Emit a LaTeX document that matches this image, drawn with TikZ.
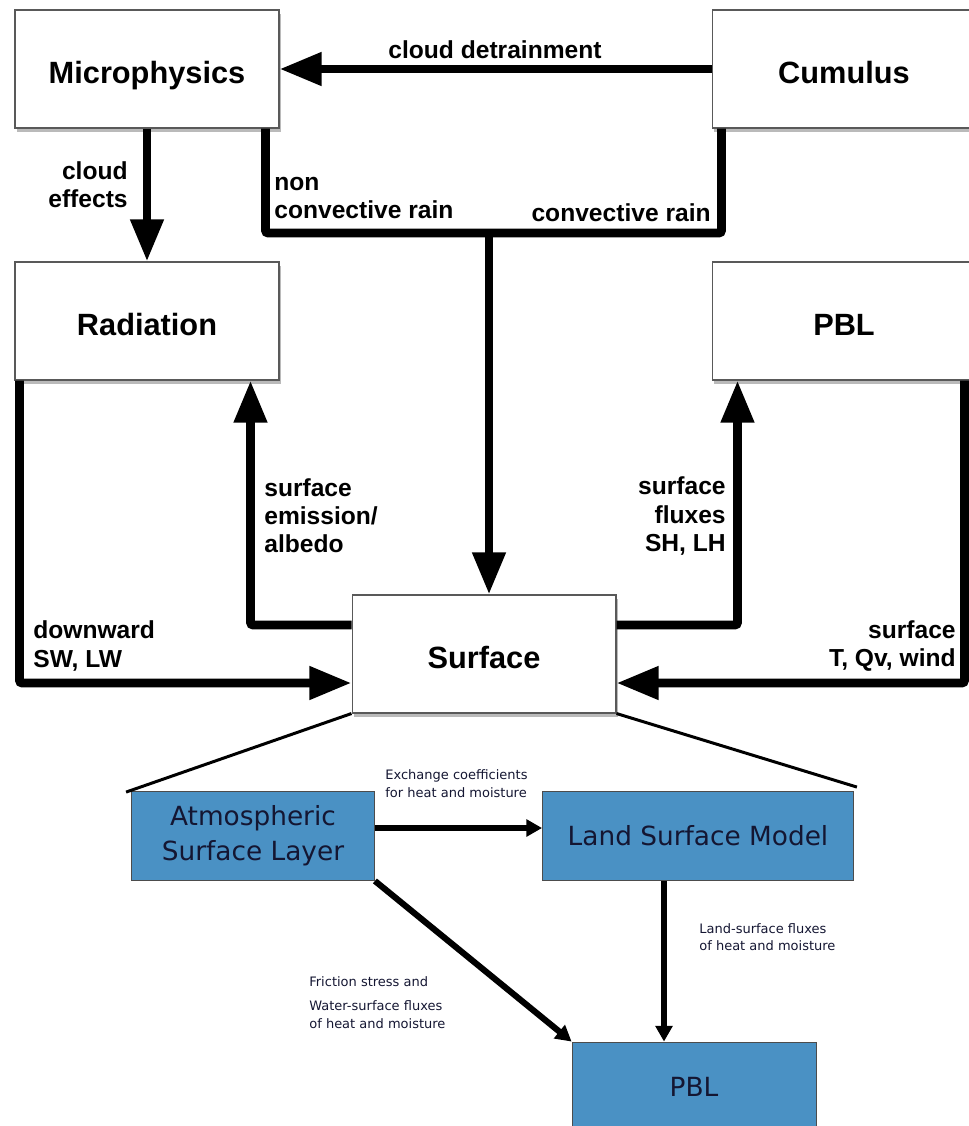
\documentclass[tikz,border=0pt]{standalone}
\usepackage{fontspec}
\setmainfont{Liberation Sans}
\newfontfamily\subfont{DejaVu Sans}
\usetikzlibrary{arrows.meta,calc,shadows}

\definecolor{boxblue}{RGB}{74,145,196}
\definecolor{textnavy}{RGB}{20,22,50}

\begin{document}
\begin{tikzpicture}[x=0.02cm,y=-0.02cm,
    modbox/.style={draw=black!65, line width=0.6pt, fill=white,
      minimum width=5.28cm, minimum height=2.36cm,
      text height=17pt, text depth=0pt,
      font=\fontsize{17.5}{20}\selectfont\bfseries,
      drop shadow={shadow xshift=1.2pt, shadow yshift=-2.5pt, fill=black!45, opacity=0.6}},
    subbox/.style={draw=black!70, line width=0.5pt, fill=boxblue,
      minimum height=1.78cm, align=center, text=textnavy,
      font=\subfont\fontsize{15}{20}\selectfont},
    pipe/.style={line width=5pt, rounded corners=1.5pt},
    flow/.style={pipe, -{Triangle[length=24pt,width=18pt]}},
    subflow/.style={line width=3.5pt, -{Triangle[length=9pt,width=9.5pt]}},
    zoomline/.style={line width=1.7pt},
    lbl/.style={inner sep=0pt, font=\fontsize{14}{16}\selectfont\bfseries},
    sublbl/.style={inner sep=0pt, align=left, text=textnavy,
      font=\subfont\fontsize{7.4}{10}\selectfont}]
    \useasboundingbox (0,0) rectangle (969,1126);
    \clip (0,0) rectangle (969,1126);

    \node[modbox] (micro) at (147,69) {Microphysics};
    \node[modbox] (cumulus) at (844,69) {Cumulus};
    \node[modbox] (radiation) at (147,321) {Radiation};
    \node[modbox] (pbl) at (844,321) {PBL};
    \node[modbox] (surface) at (484,654) {Surface};

    \node[subbox, minimum width=4.86cm] (asl) at (253,836) {Atmospheric\\Surface Layer};
    \node[subbox, minimum width=6.22cm] (lsm) at (698,836) {Land Surface Model};
    \node[subbox, minimum width=4.88cm, minimum height=1.8cm] (pblsub) at (694,1087) {PBL};

    \coordinate (rainjoin) at (489,233);

    \draw[flow] (cumulus.west) -- (micro.east);
    \node[lbl] (detrain) at (495,50) {cloud detrainment};
    \draw[flow] (micro.south) -- (radiation.north);
    \node[lbl, align=right, anchor=east] (cloudeff) at (128,185) {cloud\\effects};

    \draw[pipe] ($(micro.south east)+(-14,0)$) |- (rainjoin) -| ($(cumulus.south west)+(10,0)$);
    \draw[flow] (rainjoin) -- (rainjoin |- surface.north);
    \node[lbl, align=left, anchor=west] (ncrain) at (274,198) {non\\convective rain};
    \node[lbl, anchor=east] (crain) at (711,213) {convective rain};

    \draw[flow] ($(radiation.south west)+(5,0)$) |- ($(surface.west)+(0,29)$);
    \node[lbl, align=left, anchor=west] (downsw) at (33,646) {downward\\SW, LW};
    \draw[flow] ($(surface.west)+(0,-29)$) -| ($(radiation.south east)+(-29,0)$);
    \node[lbl, align=left, anchor=west] (emis) at (264,516) {surface\\emission/\\albedo};

    \draw[flow] ($(surface.east)+(0,-29)$) -| ($(pbl.south west)+(26,0)$);
    \node[lbl, align=right, anchor=east] (shlh) at (726,516) {surface\\fluxes\\SH, LH};
    \draw[flow] ($(pbl.south west)+(253,0)$) |- ($(surface.east)+(0,29)$);
    \node[lbl, align=right, anchor=east] (sfcwind) at (956,646) {surface\\T, Qv, wind};

    \draw[zoomline] (surface.south west) -- ($(asl.north west)+(-5,1)$);
    \draw[zoomline] (surface.south east) -- ($(lsm.north east)+(3,-4)$);

    \draw[subflow] ($(asl.east)+(0,-8)$) -- ($(lsm.west)+(0,-8)$);
    \node[sublbl, anchor=south west] (exch) at (385,798) {Exchange coefficients\\for heat and moisture};
    \draw[subflow] ($(lsm.south)+(-34,0)$) -- ($(pblsub.north)+(-30,0)$);
    \node[sublbl, anchor=north west] (landflux) at (699,923) {Land-surface fluxes\\of heat and moisture};
    \draw[subflow] (asl.south east) -- (pblsub.north west);
    \node[sublbl, anchor=north west] (waterflux) at (309,976) {Friction stress and\\[4pt]Water-surface fluxes\\of heat and moisture};
\end{tikzpicture}
\end{document}
